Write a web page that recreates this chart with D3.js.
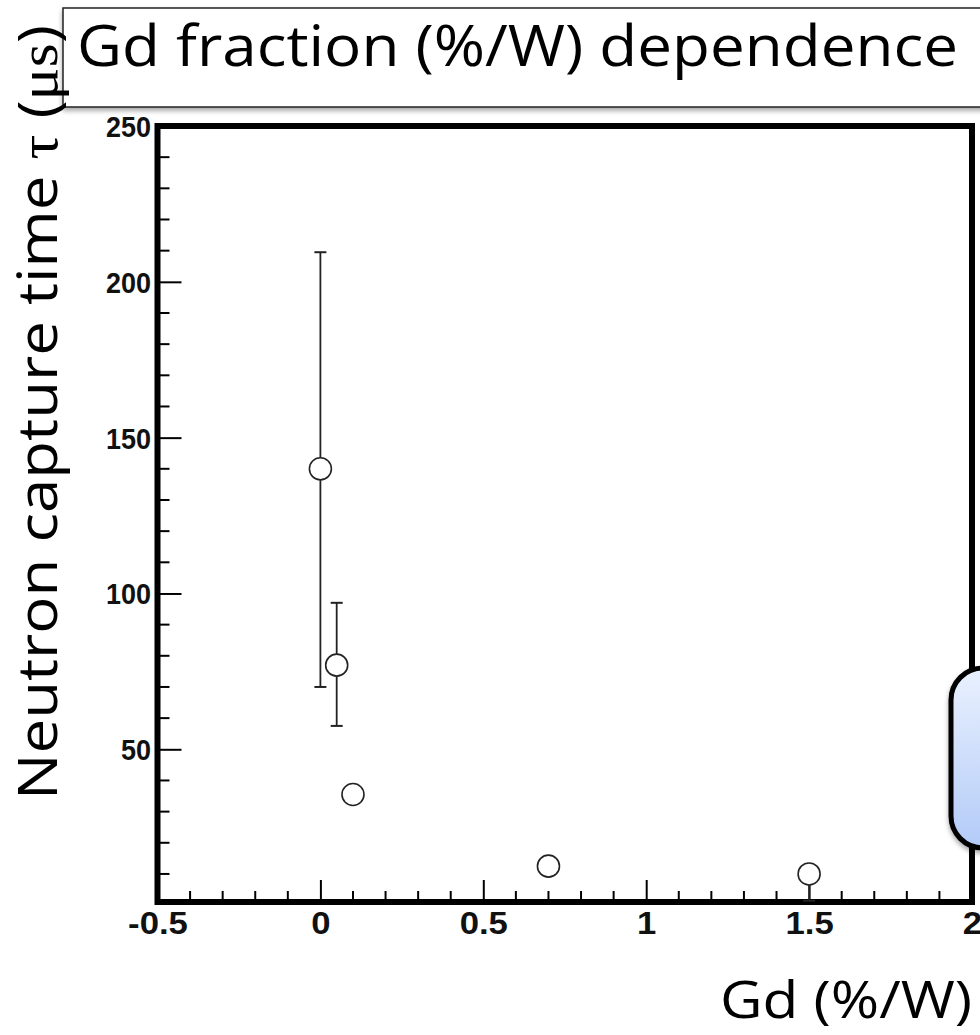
<!DOCTYPE html>
<html>
<head>
<meta charset="utf-8">
<script src="https://cdn.jsdelivr.net/npm/d3@7"></script>
<style>
  body { margin: 0; background: #fff; }
  svg { display: block; }
  .tick text { font-family: "Liberation Sans", Arial, sans-serif; font-weight: bold; }
</style>
</head>
<body>
<div id="chart"></div>
<script>
// Gd fraction (%/W) vs neutron capture time
var gdFrac = [0, 0.05, 0.1, 0.7, 1.5];
var tau    = [140, 77, 35.5, 12.5, 10];
var errLo  = [70, 19.5, 0, 0, 8.6];
var errHi  = [69.5, 20, 0, 0, 0];

var xTicks = [-0.5, 0, 0.5, 1, 1.5, 2];
var xTickLabels = ["-0.5", "0", "0.5", "1", "1.5", "2"];
var yTicks = [50, 100, 150, 200, 250];
var yTickLabels = ["50", "100", "150", "200", "250"];

var W = 980, H = 1035;
var frame = {left: 157.5, right: 972, top: 126, bottom: 902};

var svg = d3.select("#chart").append("svg")
    .attr("width", W)
    .attr("height", H);

var defs = svg.append("defs");
var grad = defs.append("linearGradient")
    .attr("id", "boxfill")
    .attr("x1", 0).attr("y1", 0).attr("x2", 0).attr("y2", 1);
grad.append("stop").attr("offset", "0%").attr("stop-color", "#e9f1fe");
grad.append("stop").attr("offset", "100%").attr("stop-color", "#b3cbf8");

var shadow = defs.append("filter").attr("id", "shadow")
    .attr("x", "-10%").attr("y", "-10%").attr("width", "130%").attr("height", "140%");
shadow.append("feDropShadow")
    .attr("dx", 0).attr("dy", 3).attr("stdDeviation", 2.5)
    .attr("flood-color", "#000").attr("flood-opacity", 0.35);

var x = d3.scaleLinear().domain([-0.5, 2]).range([frame.left, frame.right]);
var y = d3.scaleLinear().domain([1, 250]).range([frame.bottom, frame.top]);

// title box
svg.append("rect")
    .attr("x", 63).attr("y", 8)
    .attr("width", 1000).attr("height", 99)
    .attr("fill", "#fff")
    .attr("stroke", "#222").attr("stroke-width", 1.5)
    .attr("filter", "url(#shadow)");
svg.append("text")
    .attr("x", 77).attr("y", 66)
    .attr("font-family", "'Open Sans', sans-serif")
    .attr("font-size", 56)
    .attr("textLength", 881)
    .attr("lengthAdjust", "spacingAndGlyphs")
    .attr("fill", "#000")
    .text("Gd fraction (%/W) dependence");

// minor ticks
var xMinor = d3.range(-0.5, 2.0001, 0.1).filter(function(v) {
  return Math.abs(v * 2 - Math.round(v * 2)) > 1e-6;
});
var yMinor = d3.range(10, 250, 10).filter(function(v) { return v % 50 !== 0; });

var plot = svg.append("g");

plot.selectAll(".xminor").data(xMinor).enter().append("line")
    .attr("x1", function(d) { return x(d); })
    .attr("x2", function(d) { return x(d); })
    .attr("y1", frame.bottom).attr("y2", frame.bottom - 11)
    .attr("stroke", "#000").attr("stroke-width", 2);

plot.selectAll(".yminor").data(yMinor).enter().append("line")
    .attr("x1", frame.left).attr("x2", frame.left + 12)
    .attr("y1", function(d) { return y(d); })
    .attr("y2", function(d) { return y(d); })
    .attr("stroke", "#000").attr("stroke-width", 2);

var xAxis = d3.axisBottom(x)
    .tickValues(xTicks)
    .tickFormat(function(d, i) { return xTickLabels[i]; })
    .tickSizeInner(-22).tickSizeOuter(0).tickPadding(12);

var yAxis = d3.axisLeft(y)
    .tickValues(yTicks)
    .tickFormat(function(d, i) { return yTickLabels[i]; })
    .tickSizeInner(-24).tickSizeOuter(0).tickPadding(7);

var gx = plot.append("g")
    .attr("transform", "translate(0," + frame.bottom + ")")
    .call(xAxis);
var gy = plot.append("g")
    .attr("transform", "translate(" + frame.left + ",0)")
    .call(yAxis);

[gx, gy].forEach(function(g) {
  g.select(".domain").remove();
  g.selectAll(".tick line").attr("stroke", "#000").attr("stroke-width", 2);
  g.selectAll(".tick text").attr("fill", "#111");
});
gx.selectAll(".tick text")
    .attr("font-size", 31)
    .attr("dy", "0.66em")
    .attr("transform", "scale(1.12,1)");
gy.selectAll(".tick text")
    .attr("font-size", 29)
    .attr("dy", "0.36em")
    .attr("transform", "scale(0.93,1)");

// frame
plot.append("rect")
    .attr("x", frame.left).attr("y", frame.top)
    .attr("width", frame.right - frame.left)
    .attr("height", frame.bottom - frame.top)
    .attr("fill", "none")
    .attr("stroke", "#000").attr("stroke-width", 6);

// error bars
var pts = gdFrac.map(function(g, i) {
  return {x: g, y: tau[i], lo: tau[i] - errLo[i], hi: tau[i] + errHi[i]};
});

var eb = plot.append("g").selectAll("g").data(pts).enter().append("g");
eb.filter(function(d) { return d.hi > d.lo; }).append("line")
    .attr("x1", function(d) { return x(d.x); })
    .attr("x2", function(d) { return x(d.x); })
    .attr("y1", function(d) { return y(Math.max(d.lo, 1)); })
    .attr("y2", function(d) { return y(d.hi); })
    .attr("stroke", "#222").attr("stroke-width", 1.8);
eb.filter(function(d) { return d.hi > d.y; }).append("line")
    .attr("x1", function(d) { return x(d.x) - 6; })
    .attr("x2", function(d) { return x(d.x) + 6; })
    .attr("y1", function(d) { return y(d.hi); })
    .attr("y2", function(d) { return y(d.hi); })
    .attr("stroke", "#222").attr("stroke-width", 2);
eb.filter(function(d) { return d.lo < d.y && d.lo > 1; }).append("line")
    .attr("x1", function(d) { return x(d.x) - 6; })
    .attr("x2", function(d) { return x(d.x) + 6; })
    .attr("y1", function(d) { return y(d.lo); })
    .attr("y2", function(d) { return y(d.lo); })
    .attr("stroke", "#222").attr("stroke-width", 2);

// markers
plot.append("g").selectAll("circle").data(pts).enter().append("circle")
    .attr("cx", function(d) { return x(d.x); })
    .attr("cy", function(d) { return y(d.y); })
    .attr("r", 11)
    .attr("fill", "#fff")
    .attr("stroke", "#222").attr("stroke-width", 1.6);

// callout box (cut off at the right)
svg.append("rect")
    .attr("x", 951).attr("y", 668)
    .attr("width", 300).attr("height", 180)
    .attr("rx", 32).attr("ry", 32)
    .attr("fill", "url(#boxfill)")
    .attr("stroke", "#000").attr("stroke-width", 5)
    .attr("filter", "url(#shadow)");

// y axis title
var yt = svg.append("text")
    .attr("transform", "translate(57,800) rotate(-90)")
    .attr("font-family", "'Open Sans', sans-serif")
    .attr("font-size", 54)
    .attr("textLength", 775)
    .attr("lengthAdjust", "spacingAndGlyphs")
    .attr("fill", "#000");
yt.append("tspan").text("Neutron capture time  ");
yt.append("tspan").attr("font-family", "'Liberation Serif', serif").text("τ");
yt.append("tspan").text(" (");
yt.append("tspan").attr("font-family", "'Liberation Serif', serif").text("μs");
yt.append("tspan").text(")");

// x axis title
svg.append("text")
    .attr("x", 720).attr("y", 1018)
    .attr("font-family", "'Open Sans', sans-serif")
    .attr("font-size", 52)
    .attr("textLength", 252)
    .attr("lengthAdjust", "spacingAndGlyphs")
    .attr("fill", "#000")
    .text("Gd (%/W)");
</script>
</body>
</html>
